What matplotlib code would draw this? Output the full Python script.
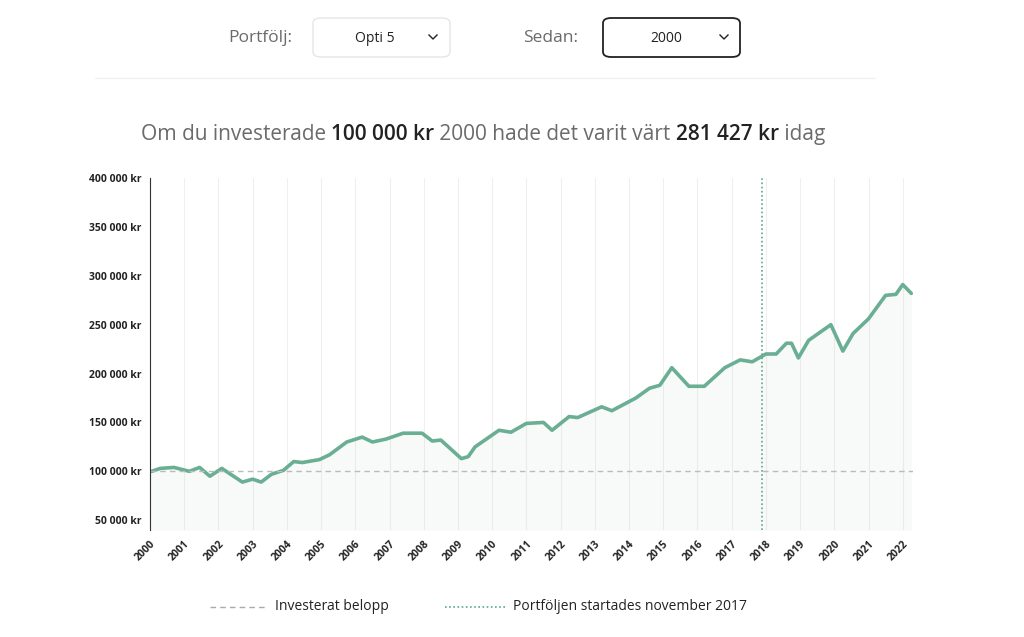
import matplotlib
matplotlib.use('Agg')
import matplotlib.pyplot as plt
from matplotlib.patches import FancyBboxPatch
from matplotlib.lines import Line2D

plt.rcParams['font.family'] = 'Open Sans'

# --- Data ---
years = [2000.0, 2000.05, 2000.3, 2000.7, 2001.15, 2001.45, 2001.75, 2002.1, 2002.7, 2003.0,
         2003.25, 2003.55, 2003.9, 2004.2, 2004.45, 2004.95, 2005.25, 2005.75, 2006.2, 2006.5,
         2006.9, 2007.4, 2007.95, 2008.25, 2008.5, 2009.1, 2009.3, 2009.5, 2010.2, 2010.55,
         2011.0, 2011.5, 2011.75, 2012.25, 2012.5, 2013.2, 2013.5, 2014.2, 2014.6, 2014.9,
         2015.25, 2015.75, 2016.2, 2016.8, 2017.25, 2017.6, 2018.0, 2018.3, 2018.6, 2018.75,
         2018.95, 2019.25, 2019.9, 2020.25, 2020.55, 2021.0, 2021.5, 2021.8, 2022.0, 2022.25]
values_k = [100, 100, 103, 104, 100, 104, 95, 103, 89, 92,
            89, 97, 101, 110, 109, 112, 117, 130, 135, 130,
            133, 139, 139, 131, 132, 113, 115, 125, 142, 140,
            149, 150, 142, 156, 155, 166, 162, 175, 185, 188,
            206, 187, 187, 206, 214, 212, 220, 220, 231, 231,
            216, 234, 250, 223, 241, 256, 280, 281, 291, 282]
invested = 100000
start_year = 2017.9
year_ticks = list(range(2000, 2023))
y_ticks = [50000, 100000, 150000, 200000, 250000, 300000, 350000, 400000]

values = [v * 1000 for v in values_k]
GREEN = '#6aae94'
DARK = '#222222'
GREY = '#6b6b6b'

fig = plt.figure(figsize=(10.24, 6.37), dpi=100)
ax = fig.add_axes([150 / 1024, 1 - 530 / 637, 763 / 1024, 352 / 637])

for yr in year_ticks:
    ax.axvline(yr, color='#efefef', lw=0.8, zorder=0)
ax.fill_between(years, values, 40000, color=GREEN, alpha=0.05, lw=0)
ax.plot(years, values, color=GREEN, lw=2.6, solid_capstyle='round', solid_joinstyle='round')
ax.axhline(invested, color='#bbbbbb', lw=1, ls=(0, (4, 3)))
ax.axvline(start_year, color='#5aa98e', lw=1.2, ls=(0, (1, 1.5)))

ax.set_xlim(2000, 2022.3)
ax.set_ylim(40000, 400000)
ax.set_yticks(y_ticks)
ax.set_yticklabels([f"{v:,}".replace(',', ' ') + ' kr' for v in y_ticks],
                   fontsize=7.5, fontweight='bold', color=DARK)
ax.set_xticks(year_ticks)
ax.set_xticklabels([str(y) for y in year_ticks], rotation=45, ha='right',
                   rotation_mode='anchor', fontsize=7.5, fontweight='bold', color=DARK)
ax.tick_params(length=0, pad=6)
for s in ['top', 'right', 'bottom']:
    ax.spines[s].set_visible(False)
ax.spines['left'].set_color('#333333')

# --- Header controls ---
fig.text(260 / 1024, 1 - 38 / 637, 'Portfölj:', fontsize=12.5, color=GREY, ha='center', va='center')
fig.text(551 / 1024, 1 - 38 / 637, 'Sedan:', fontsize=12.5, color=GREY, ha='center', va='center')
box1 = FancyBboxPatch((313 / 1024, 1 - 57 / 637), 137 / 1024, 39 / 637,
                      boxstyle='round,pad=0,rounding_size=0.008', transform=fig.transFigure,
                      fc='white', ec='#e6e6e6', lw=1)
box2 = FancyBboxPatch((603 / 1024, 1 - 57 / 637), 137 / 1024, 39 / 637,
                      boxstyle='round,pad=0,rounding_size=0.008', transform=fig.transFigure,
                      fc='white', ec='#222222', lw=1.3)
fig.patches.extend([box1, box2])
fig.text(375 / 1024, 1 - 38 / 637, 'Opti 5', fontsize=10, color=DARK, ha='center', va='center')
fig.text(666 / 1024, 1 - 38 / 637, '2000', fontsize=10, color=DARK, ha='center', va='center')
for cx in (433, 724):
    fig.add_artist(Line2D([(cx - 4) / 1024, cx / 1024, (cx + 4) / 1024],
                          [1 - 35 / 637, 1 - 39 / 637, 1 - 35 / 637], color=DARK, lw=1))
fig.add_artist(Line2D([95 / 1024, 875 / 1024], [1 - 78 / 637] * 2, color='#f0f0f0', lw=1))

# --- Title made of pieces with different colours ---
parts = [("Om du investerade ", GREY, 'normal'), ("100 000 kr", DARK, 'semibold'),
         (" 2000 hade det varit värt ", GREY, 'normal'), ("281 427 kr", DARK, 'semibold'),
         (" idag", GREY, 'normal')]
renderer = fig.canvas.get_renderer()
texts, total = [], 0
for s, c, w in parts:
    t = fig.text(0, 1 - 135 / 637, s, fontsize=15, color=c, fontweight=w, va='center')
    bb = t.get_window_extent(renderer)
    texts.append((t, bb.width))
    total += bb.width
x = 483 - total / 2
for t, w in texts:
    t.set_x(x / 1024)
    x += w

# --- Legend ---
fig.add_artist(Line2D([210 / 1024, 268 / 1024], [1 - 607 / 637] * 2, color='#aaaaaa', lw=1, ls=(0, (4, 3))))
fig.text(275 / 1024, 1 - 607 / 637, 'Investerat belopp', fontsize=10, color=DARK, va='center')
fig.add_artist(Line2D([445 / 1024, 505 / 1024], [1 - 607 / 637] * 2, color='#5aa98e', lw=1.2, ls=(0, (1, 1.5))))
fig.text(513 / 1024, 1 - 607 / 637, 'Portföljen startades november 2017', fontsize=10, color=DARK, va='center')

fig.savefig('out.png', dpi=100, facecolor='white')
